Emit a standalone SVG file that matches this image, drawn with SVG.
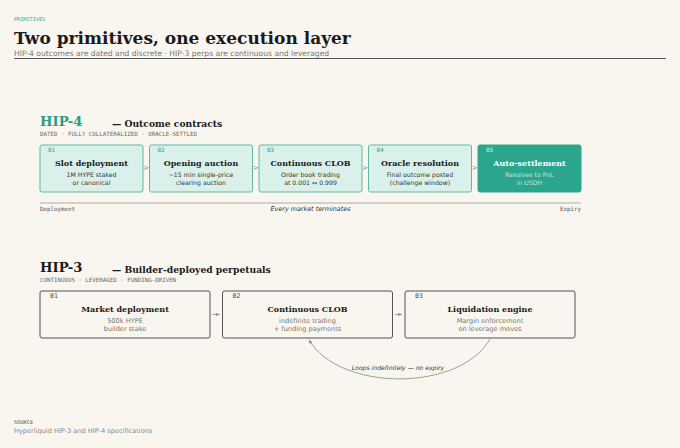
<svg xmlns="http://www.w3.org/2000/svg" width="680" height="448" viewBox="0 0 680 448">
<style>
.serif{font-family:"DejaVu Serif","Liberation Serif",serif;font-weight:bold}
.sans{font-family:"DejaVu Sans","Liberation Sans",sans-serif}
.mono{font-family:"DejaVu Sans Mono","Liberation Mono",monospace}
.b4{fill:#d9f1ea;stroke:#5db9a2;stroke-width:1}
.b4x{fill:#2ba68c;stroke:#2ba68c;stroke-width:1}
.b3{fill:#f9f6f0;stroke:#555350;stroke-width:1}
.num4{fill:#2a9a80;font-size:6px}
.num3{fill:#444;font-size:6.5px}
.t{font-size:8px;fill:#1a1a1a;text-anchor:middle}
.d{font-size:6.2px;fill:#333;text-anchor:middle}
.d3{font-size:6.6px;fill:#777;text-anchor:middle}
.arr{font-size:7px;fill:#888;text-anchor:middle}
</style>
<defs>
<marker id="ah" viewBox="0 0 10 10" refX="9" refY="5" markerWidth="5" markerHeight="5" orient="auto-start-reverse">
<path d="M0,1 L9,5 L0,9 z" fill="#888"/>
</marker>
</defs>
<rect width="680" height="448" fill="#f9f6f0"/>
<g id="header">
<text x="14" y="20.5" class="mono" font-size="5.2" fill="#3aa58c">PRIMITIVES</text>
<text x="14" y="44" class="serif" font-size="17" fill="#1a1a1a">Two primitives, one execution layer</text>
<text x="14" y="56" class="sans" font-size="7.6" fill="#777">HIP-4 outcomes are dated and discrete · HIP-3 perps are continuous and leveraged</text>
<line x1="14" y1="58.5" x2="666" y2="58.5" stroke="#555" stroke-width="1"/>
</g>
<g id="hip4-heading">
<text x="40" y="126" class="serif" font-size="13.2" fill="#2a9a80">HIP-4</text>
<text x="112" y="126.5" class="serif" font-size="9.2" fill="#1a1a1a">— Outcome contracts</text>
<text x="40" y="136" class="mono" font-size="5.8" fill="#666">DATED · FULLY COLLATERALIZED · ORACLE-SETTLED</text>
</g>
<g id="h4-n1">
<rect class="b4" x="40" y="145" width="103" height="47" rx="2"/>
<text class="mono num4" x="48" y="152">01</text>
<text class="serif t" x="91.5" y="166">Slot deployment</text>
<text class="sans d" x="91.5" y="177">1M HYPE staked</text>
<text class="sans d" x="91.5" y="184.5">or canonical</text>
</g>
<g id="h4-n2">
<rect class="b4" x="149.5" y="145" width="103" height="47" rx="2"/>
<text class="mono num4" x="157.5" y="152">02</text>
<text class="serif t" x="201" y="166">Opening auction</text>
<text class="sans d" x="201" y="177">~15 min single-price</text>
<text class="sans d" x="201" y="184.5">clearing auction</text>
</g>
<g id="h4-n3">
<rect class="b4" x="259" y="145" width="103" height="47" rx="2"/>
<text class="mono num4" x="267" y="152">03</text>
<text class="serif t" x="310.5" y="166">Continuous CLOB</text>
<text class="sans d" x="310.5" y="177">Order book trading</text>
<text class="sans d" x="310.5" y="184.5">at 0.001 ↔ 0.999</text>
</g>
<g id="h4-n4">
<rect class="b4" x="368.5" y="145" width="103" height="47" rx="2"/>
<text class="mono num4" x="376.5" y="152">04</text>
<text class="serif t" x="420" y="166">Oracle resolution</text>
<text class="sans d" x="420" y="177">Final outcome posted</text>
<text class="sans d" x="420" y="184.5">(challenge window)</text>
</g>
<g id="h4-n5">
<rect class="b4x" x="478" y="145" width="103" height="47" rx="2"/>
<text class="mono num4" x="486" y="152" style="fill:#d9f1ea">05</text>
<text class="serif t" x="529.5" y="166" style="fill:#ffffff">Auto-settlement</text>
<text class="sans d" x="529.5" y="177" style="fill:#bfe6dc">Resolves to PnL</text>
<text class="sans d" x="529.5" y="184.5" style="fill:#bfe6dc">in USDH</text>
</g>
<g id="h4-connectors">
<text class="sans arr" x="146.3" y="170">&gt;</text>
<text class="sans arr" x="255.8" y="170">&gt;</text>
<text class="sans arr" x="365.3" y="170">&gt;</text>
<text class="sans arr" x="474.8" y="170">&gt;</text>
</g>
<g id="h4-timeline">
<line x1="40" y1="203" x2="581" y2="203" stroke="#aaa" stroke-width="1"/>
<text x="40" y="211" class="mono" font-size="5.8" fill="#555">Deployment</text>
<text x="310.5" y="211" class="sans" font-size="6.4" font-style="italic" fill="#333" text-anchor="middle">Every market terminates</text>
<text x="581" y="211" class="mono" font-size="5.8" fill="#555" text-anchor="end">Expiry</text>
</g>
<g id="hip3-heading">
<text x="40" y="272" class="serif" font-size="13.2" fill="#1a1a1a">HIP-3</text>
<text x="112" y="272.5" class="serif" font-size="9.2" fill="#1a1a1a">— Builder-deployed perpetuals</text>
<text x="40" y="282" class="mono" font-size="5.8" fill="#666">CONTINUOUS · LEVERAGED · FUNDING-DRIVEN</text>
</g>
<g id="h3-n1">
<rect class="b3" x="40" y="291" width="170" height="47" rx="2"/>
<text class="mono num3" x="50" y="298">01</text>
<text class="serif t" x="125" y="312">Market deployment</text>
<text class="sans d3" x="125" y="323">500k HYPE</text>
<text class="sans d3" x="125" y="330.5">builder stake</text>
</g>
<g id="h3-n2">
<rect class="b3" x="222.5" y="291" width="170" height="47" rx="2"/>
<text class="mono num3" x="232.5" y="298">02</text>
<text class="serif t" x="307.5" y="312">Continuous CLOB</text>
<text class="sans d3" x="307.5" y="323">indefinite trading</text>
<text class="sans d3" x="307.5" y="330.5">+ funding payments</text>
</g>
<g id="h3-n3">
<rect class="b3" x="405" y="291" width="170" height="47" rx="2"/>
<text class="mono num3" x="415" y="298">03</text>
<text class="serif t" x="490" y="312">Liquidation engine</text>
<text class="sans d3" x="490" y="323">Margin enforcement</text>
<text class="sans d3" x="490" y="330.5">on leverage moves</text>
</g>
<g id="h3-connectors" fill="none" stroke="#888" stroke-width="0.8">
<line x1="212.5" y1="314.5" x2="219.5" y2="314.5" marker-end="url(#ah)"/>
<line x1="395" y1="314.5" x2="402" y2="314.5" marker-end="url(#ah)"/>
<path d="M490,339 C460,392 340,392 309,340" marker-end="url(#ah)"/>
<text x="398" y="370" class="sans" font-size="6.1" font-style="italic" fill="#333" stroke="none" text-anchor="middle">Loops indefinitely — no expiry</text>
</g>
<g id="footer">
<text x="14" y="423.5" class="mono" font-size="5.3" fill="#555">SOURCE</text>
<text x="14" y="432.5" class="sans" font-size="6.6" fill="#888">Hyperliquid HIP-3 and HIP-4 specifications</text>
</g>
</svg>
